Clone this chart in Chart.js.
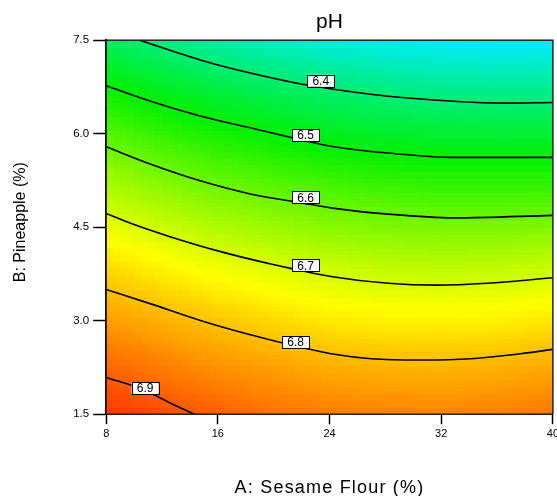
<!DOCTYPE html>
<html>
<head>
<meta charset="utf-8">
<script src="https://cdn.jsdelivr.net/npm/chart.js@4.4.0/dist/chart.umd.min.js"></script>
<style>
html, body { margin: 0; padding: 0; background: #fff; overflow: hidden; }
#wrap { width: 562px; height: 500px; }
</style>
</head>
<body>
<div id="wrap"><canvas id="mycanvas"></canvas></div>
<script>
// grid nodes of the response surface
var sesame = [8, 12, 16, 20, 24, 28, 32, 36, 40];
var pineapple = [1.5, 2.25, 3.0, 3.75, 4.5, 5.25, 6.0, 6.75, 7.5];
// pH at each node, one row per pineapple value (bottom row first)
var phGrid = [
	[6.937, 6.917, 6.895, 6.877, 6.867, 6.861, 6.860, 6.864, 6.872],
	[6.889, 6.866, 6.845, 6.831, 6.816, 6.810, 6.808, 6.812, 6.821],
	[6.835, 6.814, 6.793, 6.774, 6.757, 6.750, 6.748, 6.751, 6.760],
	[6.780, 6.754, 6.731, 6.712, 6.696, 6.686, 6.683, 6.686, 6.694],
	[6.718, 6.690, 6.664, 6.644, 6.628, 6.619, 6.614, 6.615, 6.619],
	[6.650, 6.619, 6.592, 6.573, 6.556, 6.545, 6.538, 6.539, 6.540],
	[6.579, 6.546, 6.521, 6.500, 6.478, 6.466, 6.458, 6.456, 6.457],
	[6.502, 6.469, 6.440, 6.416, 6.398, 6.382, 6.371, 6.368, 6.369],
	[6.420, 6.386, 6.354, 6.328, 6.304, 6.287, 6.278, 6.275, 6.276]
];

// contour lines, [sesame, pineapple]
var levels = ['6.4', '6.5', '6.6', '6.7', '6.8', '6.9'];
var line64 = [[10.4, 7.5], [14.8, 7.18], [18.4, 6.97], [22.4, 6.78], [28.2, 6.60], [32.9, 6.52], [36.5, 6.49], [40, 6.50]];
var line65 = [[8, 6.77], [11.2, 6.52], [14.8, 6.28], [18.4, 6.09], [22, 5.90], [24.1, 5.80], [28.2, 5.69], [32.9, 5.62], [40, 5.62]];
var line66 = [[8, 5.79], [11.2, 5.51], [14.8, 5.24], [18.4, 5.03], [22, 4.89], [24.1, 4.81], [28.2, 4.71], [32.9, 4.65], [40, 4.69]];
var line67 = [[8, 4.72], [9.9, 4.55], [12.4, 4.36], [16, 4.12], [19.6, 3.92], [24.1, 3.71], [28.2, 3.60], [31.7, 3.57], [35.3, 3.60], [40, 3.69]];
var line68 = [[8, 3.50], [11.2, 3.27], [14.8, 3.0], [18.4, 2.77], [22, 2.57], [24.1, 2.47], [27, 2.39], [30.6, 2.37], [34.1, 2.39], [37.7, 2.47], [40, 2.54]];
var line69 = [[8, 2.09], [10.7, 1.89], [12.4, 1.70], [14.4, 1.49]];
var contourLines = [line64, line65, line66, line67, line68, line69];
// where each level label sits
var labelSpots = [[23.37, 6.85], [22.28, 5.98], [22.28, 4.98], [22.28, 3.89], [21.57, 2.66], [10.79, 1.92]];

var xTicks = [8, 16, 24, 32, 40];
var yTicks = [1.5, 3.0, 4.5, 6.0, 7.5];
var yTickLabels = ['1.5', '3.0', '4.5', '6.0', '7.5'];

// colour ramp: cyan -> green -> yellow -> red
var rampAt = [6.275, 6.5, 6.735, 6.97];
var rampRgb = [[0, 235, 255], [0, 240, 0], [255, 255, 0], [255, 20, 0]];

function phColor(v) {
	if (v <= rampAt[0]) return 'rgb(' + rampRgb[0].join(',') + ')';
	for (var i = 1; i < rampAt.length; i++) {
		if (v <= rampAt[i]) {
			var t = (v - rampAt[i - 1]) / (rampAt[i] - rampAt[i - 1]);
			var c = rampRgb[i - 1], d = rampRgb[i];
			return 'rgb(' + Math.round(c[0] + (d[0] - c[0]) * t) + ',' + Math.round(c[1] + (d[1] - c[1]) * t) + ',' + Math.round(c[2] + (d[2] - c[2]) * t) + ')';
		}
	}
	return 'rgb(' + rampRgb[rampRgb.length - 1].join(',') + ')';
}

function findCell(arr, v) {
	for (var i = 0; i < arr.length - 2; i++) if (v < arr[i + 1]) return i;
	return arr.length - 2;
}

function phAt(a, b) {
	var i = findCell(sesame, a), j = findCell(pineapple, b);
	var tx = (a - sesame[i]) / (sesame[i + 1] - sesame[i]);
	var ty = (b - pineapple[j]) / (pineapple[j + 1] - pineapple[j]);
	var lo = phGrid[j][i] * (1 - tx) + phGrid[j][i + 1] * tx;
	var hi = phGrid[j + 1][i] * (1 - tx) + phGrid[j + 1][i + 1] * tx;
	return lo * (1 - ty) + hi * ty;
}

var heatPlugin = {
	id: 'heat',
	afterLayout: function(chart) {
		// centre the title over the plot, not the canvas
		var t = chart.titleBlock;
		if (t) {
			t.left = chart.chartArea.left;
			t.right = chart.chartArea.right;
		}
	},
	beforeDraw: function(chart) {
		var xs = chart.scales.x, ys = chart.scales.y;
		if (!xs._patched) {
			var origX = xs.drawTitle;
			xs.drawTitle = function() {
				this.ctx.save();
				this.ctx.letterSpacing = '1.2px';
				origX.apply(this, arguments);
				this.ctx.restore();
			};
			xs._patched = true;
		}
		if (!ys._patched) {
			var origY = ys.drawTitle;
			ys.drawTitle = function() {
				this.ctx.save();
				this.ctx.translate(1, -5);
				origY.apply(this, arguments);
				this.ctx.restore();
			};
			ys._patched = true;
		}
	},
	beforeDatasetsDraw: function(chart) {
		var ctx = chart.ctx, xs = chart.scales.x, ys = chart.scales.y;
		var nx = 64, ny = 54;
		var a0 = sesame[0], a1 = sesame[sesame.length - 1];
		var b0 = pineapple[0], b1 = pineapple[pineapple.length - 1];
		ctx.save();
		for (var i = 0; i < nx; i++) {
			var aL = a0 + (a1 - a0) * i / nx, aR = a0 + (a1 - a0) * (i + 1) / nx;
			var px0 = Math.floor(xs.getPixelForValue(aL)), px1 = Math.ceil(xs.getPixelForValue(aR));
			for (var j = 0; j < ny; j++) {
				var bB = b0 + (b1 - b0) * j / ny, bT = b0 + (b1 - b0) * (j + 1) / ny;
				var py0 = Math.floor(ys.getPixelForValue(bT)), py1 = Math.ceil(ys.getPixelForValue(bB));
				ctx.fillStyle = phColor(phAt((aL + aR) / 2, (bB + bT) / 2));
				ctx.fillRect(px0, py0, px1 - px0, py1 - py0);
			}
		}
		ctx.restore();
	},
	afterDatasetsDraw: function(chart) {
		var ctx = chart.ctx, xs = chart.scales.x, ys = chart.scales.y, area = chart.chartArea;
		ctx.save();
		ctx.font = '12px "Liberation Sans", Arial, sans-serif';
		ctx.textAlign = 'center';
		ctx.textBaseline = 'middle';
		for (var k = 0; k < levels.length; k++) {
			var cx = xs.getPixelForValue(labelSpots[k][0]);
			var cy = ys.getPixelForValue(labelSpots[k][1]);
			ctx.fillStyle = '#fff';
			ctx.fillRect(cx - 13.5, cy - 6, 27, 12);
			ctx.strokeStyle = '#000';
			ctx.lineWidth = 1;
			ctx.strokeRect(Math.round(cx - 13.5) + 0.5, Math.round(cy - 6) + 0.5, 27, 12);
			ctx.fillStyle = '#000';
			ctx.fillText(levels[k], cx, cy + 1);
		}
		// frame
		ctx.strokeStyle = '#222';
		ctx.lineWidth = 1.5;
		ctx.strokeRect(area.left, area.top, area.right - area.left, area.bottom - area.top);
		ctx.restore();
	}
};

Chart.defaults.font.family = "'Liberation Sans', Arial, sans-serif";
Chart.defaults.color = '#000';

var datasets = [];
for (var k = 0; k < contourLines.length; k++) {
	datasets.push({
		label: levels[k],
		data: contourLines[k].map(function(p) { return {x: p[0], y: p[1]}; }),
		showLine: true,
		borderColor: '#000',
		borderWidth: 1.6,
		pointRadius: 0,
		cubicInterpolationMode: 'monotone',
		fill: false
	});
}

var ctx = document.getElementById('mycanvas');
var contourChart = new Chart(ctx, {
	type: 'scatter',
	data: {datasets: datasets},
	plugins: [heatPlugin],
	options: {
		responsive: true,
		maintainAspectRatio: false,
		animation: false,
		layout: {padding: 0},
		plugins: {
			legend: {display: false},
			tooltip: {enabled: false},
			title: {
				display: true,
				text: 'pH',
				color: '#000',
				font: {size: 21, weight: 'normal'},
				padding: {top: 10, bottom: 5}
			}
		},
		scales: {
			x: {
				type: 'linear',
				min: 8,
				max: 40,
				afterBuildTicks: function(scale) { scale.ticks = xTicks.map(function(v) { return {value: v}; }); },
				ticks: {color: '#000', font: {size: 11}, padding: 3, maxRotation: 0, autoSkip: false},
				grid: {drawOnChartArea: false, drawTicks: true, tickLength: 10, tickColor: '#000', tickWidth: 1.5},
				border: {color: '#000', width: 2},
				title: {display: true, text: 'A: Sesame Flour (%)', color: '#000', font: {size: 18}, padding: {top: 34, bottom: 1}}
			},
			y: {
				type: 'linear',
				min: 1.5,
				max: 7.5,
				afterBuildTicks: function(scale) { scale.ticks = yTicks.map(function(v) { return {value: v}; }); },
				ticks: {
					color: '#000',
					font: {size: 11.5},
					padding: 4,
					autoSkip: false,
					callback: function(v) { return yTickLabels[yTicks.indexOf(v)]; }
				},
				grid: {drawOnChartArea: false, drawTicks: true, tickLength: 13, tickColor: '#000', tickWidth: 1.5},
				border: {color: '#000', width: 2},
				title: {display: true, text: 'B: Pineapple (%)', color: '#000', font: {size: 16}, padding: {top: 10, bottom: 40}}
			}
		}
	}
});
</script>
</body>
</html>
